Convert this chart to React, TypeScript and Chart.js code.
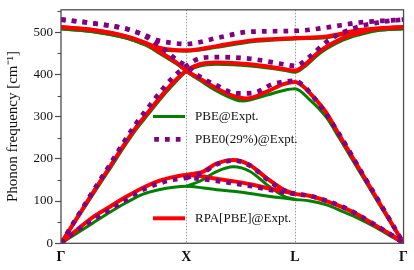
import React, { useEffect, useRef } from "react";
import { Chart, registerables } from "chart.js";

Chart.register(...registerables);

// high-symmetry path positions (Γ-X-L-Γ) and labels
const kTicks = [0, 1, 1.866, 2.732];
const kLabels = ["Γ", "X", "L", "Γ"];
const yTicks = [0, 100, 200, 300, 400, 500];
const yMinorTicks = [50, 150, 250, 350, 450, 550];
const yMax = 553;

// ---- PBE@Expt. (green) : [k, ω cm^-1]
const pbeTO = [[0, 508], [0.255, 501], [0.519, 486], [0.676, 470], [0.8, 459], [0.9, 456], [1, 455], [1.241, 464], [1.508, 477], [1.866, 484], [2.117, 487], [2.379, 501], [2.732, 508]];
const pbeLOdip = [[0, 508], [0.255, 501], [0.519, 486], [0.676, 469], [0.78, 451], [0.86, 436], [0.94, 421], [1, 407], [1.107, 386], [1.241, 361], [1.452, 337], [1.641, 351], [1.775, 362], [1.866, 366], [1.987, 339], [2.117, 298], [2.222, 248], [2.392, 164], [2.562, 81], [2.732, 0]];
const pbeLAup = [[0, 0], [0.255, 116], [0.387, 175], [0.5, 227], [0.6, 270], [0.7, 307], [0.78, 337], [0.886, 373], [1, 407], [1.107, 420], [1.241, 424], [1.508, 420], [1.775, 410], [1.866, 405], [1.934, 416], [2.065, 450], [2.249, 481], [2.38, 494], [2.51, 503], [2.732, 508]];
const pbeTA = [[0, 0], [0.124, 23], [0.255, 48], [0.387, 73], [0.519, 96], [0.65, 116], [0.781, 127], [0.9, 133], [1, 135], [1.134, 131], [1.241, 127], [1.374, 123], [1.508, 118], [1.641, 112], [1.775, 107], [1.866, 104], [1.987, 100], [2.117, 91], [2.248, 75], [2.379, 58], [2.509, 38], [2.64, 15], [2.732, 0]];
const pbeTAbump = [[1, 135], [1.107, 147], [1.241, 170], [1.374, 181], [1.508, 170], [1.641, 139], [1.775, 112], [1.866, 104]];

// ---- PBE0(29%)@Expt. (purple, dotted)
const pbe0TO = [[0, 530], [0.255, 521], [0.519, 508], [0.65, 495], [0.78, 480], [0.9, 474], [1, 472], [1.241, 486], [1.508, 501], [1.866, 503], [2.117, 511], [2.379, 523], [2.66, 528.5], [2.732, 530]];
const pbe0LOdip = [[0, 530], [0.255, 521], [0.519, 508], [0.65, 494], [0.8, 464], [0.86, 449], [0.94, 431], [1, 420], [1.107, 395], [1.241, 374], [1.4, 355], [1.531, 356], [1.689, 377], [1.866, 385], [1.93, 374], [2.091, 316], [2.222, 257], [2.392, 171], [2.562, 86], [2.732, 0]];
const pbe0LAup = [[0, 0], [0.255, 123], [0.387, 185], [0.5, 239], [0.6, 284], [0.7, 323], [0.78, 354], [0.886, 391], [1, 420], [1.107, 438], [1.241, 441], [1.508, 437], [1.775, 424], [1.866, 420], [1.987, 443], [2.117, 477], [2.262, 501], [2.4, 515], [2.55, 524], [2.732, 530]];
const pbe0TA = [[0, 0], [0.124, 30], [0.29, 62], [0.36, 75], [0.5, 100], [0.645, 126], [0.795, 143], [0.882, 150], [0.965, 153], [1, 155], [1.134, 152], [1.241, 148], [1.374, 142], [1.508, 136], [1.641, 128], [1.775, 121], [1.866, 117], [1.987, 112], [2.117, 101], [2.248, 86], [2.379, 66], [2.509, 43], [2.64, 19], [2.732, 0]];
const pbe0TAbump = [[1, 155], [1.134, 168], [1.241, 187], [1.374, 196], [1.508, 184], [1.641, 152], [1.775, 126], [1.866, 117]];

// ---- RPA[PBE]@Expt. (red)
const rpaTO = [[0, 512], [0.255, 505], [0.519, 490], [0.676, 474], [0.8, 462], [0.9, 458], [1, 457], [1.241, 467], [1.508, 480], [1.866, 486], [2.117, 490], [2.379, 505], [2.732, 512]];
const rpaLOdip = [[0, 512], [0.255, 505], [0.519, 490], [0.676, 474], [0.78, 455], [0.86, 440], [0.94, 424], [1, 409], [1.107, 390], [1.241, 367], [1.374, 349], [1.478, 343], [1.641, 359], [1.775, 377], [1.866, 382], [1.93, 372], [1.987, 355], [2.117, 309], [2.222, 255], [2.392, 170], [2.562, 85], [2.732, 0]];
const rpaLAup = [[0, 0], [0.255, 120], [0.387, 180], [0.5, 232], [0.6, 275], [0.7, 312], [0.78, 342], [0.886, 378], [1, 409], [1.107, 424], [1.241, 428], [1.508, 424], [1.775, 413], [1.866, 409], [1.934, 420], [2.065, 455], [2.249, 486], [2.38, 498], [2.51, 508], [2.732, 512]];
const rpaTA = [[0, 0], [0.124, 31], [0.255, 62], [0.387, 86], [0.519, 110], [0.65, 131], [0.781, 148], [0.913, 158], [1, 162], [1.134, 158], [1.241, 153], [1.374, 147], [1.508, 140], [1.641, 131], [1.775, 123], [1.866, 117], [1.987, 112], [2.117, 100], [2.248, 85], [2.379, 66], [2.509, 42], [2.64, 19], [2.732, 0]];
const rpaTAbump = [[1, 162], [1.134, 170], [1.241, 189], [1.374, 197], [1.508, 185], [1.641, 154], [1.775, 127], [1.866, 117]];

const GREEN = "#008000";
const PURPLE = "#800080";
const RED = "#ff0000";
const AXIS = "#4d4d4d";
const SERIF = "'Liberation Serif', 'Times New Roman', serif";

const legendItems = [
  { label: "PBE@Expt.", color: GREEN, dotted: false, width: 3, y: 116.5 },
  { label: "PBE0(29%)@Expt.", color: PURPLE, dotted: true, width: 4.7, y: 139.3 },
  { label: "RPA[PBE]@Expt.", color: RED, dotted: false, width: 4, y: 218.3 },
];

function toXY(arr: number[][]) {
  return arr.map(([x, y]) => ({ x, y }));
}

function branchSets(branches: number[][][], color: string, width: number, dotted: boolean, order: number) {
  return branches.map((b) => ({
    data: toXY(b),
    borderColor: color,
    backgroundColor: color,
    borderWidth: width,
    borderDash: dotted ? [4.7, 6.1] : [],
    borderCapStyle: "butt" as const,
    pointRadius: 0,
    cubicInterpolationMode: "monotone" as const,
    fill: false,
    order,
  }));
}

const decorPlugin = {
  id: "decor",
  beforeDatasetsDraw(chart: any) {
    const { ctx, chartArea: a, scales } = chart;
    const x = scales.x;
    ctx.save();
    ctx.strokeStyle = "#9a9a9a";
    ctx.lineWidth = 1;
    ctx.setLineDash([1.5, 1.5]);
    [kTicks[1], kTicks[2]].forEach((v) => {
      const px = Math.round(x.getPixelForValue(v)) + 0.5;
      ctx.beginPath();
      ctx.moveTo(px, a.top);
      ctx.lineTo(px, a.bottom);
      ctx.stroke();
    });
    ctx.restore();
  },
  afterDraw(chart: any) {
    const { ctx, chartArea: a, scales } = chart;
    const y = scales.y;
    ctx.save();
    // frame
    ctx.strokeStyle = AXIS;
    ctx.lineWidth = 1.3;
    ctx.strokeRect(a.left, a.top, a.right - a.left, a.bottom - a.top);
    // minor ticks
    ctx.lineWidth = 1.1;
    yMinorTicks.forEach((v) => {
      const py = Math.round(y.getPixelForValue(v)) + 0.5;
      ctx.beginPath();
      ctx.moveTo(a.left - 3.5, py);
      ctx.lineTo(a.left, py);
      ctx.stroke();
    });
    // legend
    const x0 = a.left + 92;
    const x1 = a.left + 124;
    legendItems.forEach((it) => {
      ctx.strokeStyle = it.color;
      ctx.lineWidth = it.width;
      ctx.lineCap = "butt";
      ctx.setLineDash(it.dotted ? [4.7, 6.1] : []);
      ctx.beginPath();
      ctx.moveTo(it.dotted ? x0 + 1.2 : x0, it.y);
      ctx.lineTo(x1, it.y);
      ctx.stroke();
      ctx.setLineDash([]);
      ctx.fillStyle = "#111";
      ctx.font = `13px ${SERIF}`;
      ctx.textBaseline = "middle";
      ctx.textAlign = "left";
      ctx.fillText(it.label, a.left + 134, it.y + 0.5);
    });
    ctx.restore();
  },
};

export default function App() {
  const ref = useRef<HTMLCanvasElement | null>(null);
  useEffect(() => {
    document.body.style.margin = "0";
    const canvas = ref.current;
    if (!canvas) return;
    const datasets = [
      ...branchSets([pbeTO, pbeLOdip, pbeLAup, pbeTA, pbeTAbump], GREEN, 3, false, 2),
      ...branchSets([rpaTO, rpaLOdip, rpaLAup, rpaTA, rpaTAbump], RED, 4, false, 1),
      ...branchSets([pbe0TO, pbe0LOdip, pbe0LAup, pbe0TA, pbe0TAbump], PURPLE, 4.7, true, 0),
    ];
    const chart = new Chart(canvas, {
      type: "line",
      data: { datasets },
      options: {
        animation: false,
        responsive: false,
        parsing: true,
        layout: { padding: { left: 0, right: 7.3, top: 5, bottom: 0 } },
        plugins: { legend: { display: false }, tooltip: { enabled: false } },
        scales: {
          x: {
            type: "linear",
            min: kTicks[0],
            max: kTicks[kTicks.length - 1],
            afterBuildTicks: (s: any) => {
              s.ticks = kTicks.map((v) => ({ value: v }));
            },
            afterFit: (s: any) => {
              s.height = 26.7;
            },
            grid: { display: false, drawTicks: false },
            border: { display: false },
            ticks: {
              autoSkip: false,
              maxRotation: 0,
              padding: 6,
              color: "#111",
              font: { family: SERIF, size: 14, weight: "bold" },
              callback: (_v: any, i: number) => kLabels[i],
            },
          },
          y: {
            type: "linear",
            min: 0,
            max: yMax,
            afterBuildTicks: (s: any) => {
              s.ticks = yTicks.map((v) => ({ value: v }));
            },
            afterFit: (s: any) => {
              s.width = 61;
            },
            grid: {
              display: true,
              drawOnChartArea: false,
              drawTicks: true,
              tickLength: 6,
              tickColor: AXIS,
              tickWidth: 1.2,
              color: AXIS,
            },
            border: { display: false },
            ticks: {
              padding: 2,
              color: "#111",
              font: { family: SERIF, size: 13 },
            },
            title: {
              display: true,
              text: "Phonon frequency [cm⁻¹]",
              color: "#111",
              font: { family: SERIF, size: 15 },
              padding: { top: 4, bottom: 0 },
            },
          },
        },
      },
      plugins: [decorPlugin],
    });
    return () => chart.destroy();
  }, []);
  return <canvas ref={ref} width={414} height={270} style={{ display: "block", width: 414, height: 270 }} />;
}
